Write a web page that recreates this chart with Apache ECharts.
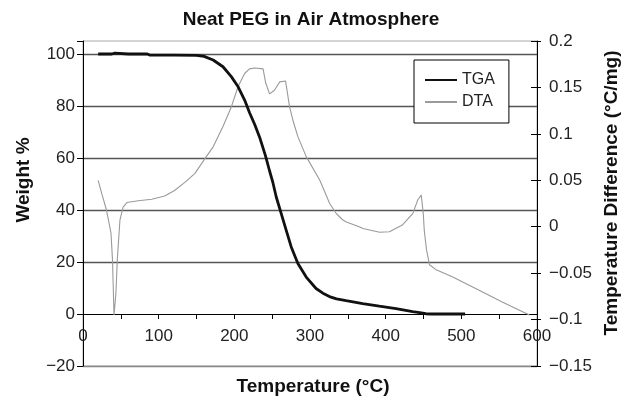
<!DOCTYPE html>
<html>
<head>
<meta charset="utf-8">
<script src="https://cdn.jsdelivr.net/npm/echarts@6/dist/echarts.min.js"></script>
<style>
  html, body { margin: 0; padding: 0; background: #fff; }
  #chart { width: 626px; height: 400px; }
</style>
</head>
<body>
<div id="chart"></div>
<script>
// Thermogravimetric (TGA) and differential thermal (DTA) traces of neat PEG in air
const tgaTemp = [20, 30, 38, 40, 42, 60, 85, 88, 120, 150, 160, 172, 185, 196, 205, 213.6, 220, 226.8,
  233.4, 241, 246.6, 251, 255.4, 262, 268.6, 275.2, 284, 295, 308, 317, 325.7, 335, 347.7, 369.6,
  391.6, 413.7, 435.6, 445, 453, 460, 480, 505];
const tgaWeight = [100, 100, 100, 99.3, 100.3, 100, 100, 99.6, 99.6, 99.5, 99.1, 97.7, 95.1, 91.3, 87.4,
  82.3, 77.5, 73, 68, 61, 55, 50.5, 45, 38.6, 32.2, 25.8, 19.4, 14.2, 9.8, 8, 6.7, 5.8, 5.1, 4.0,
  3.0, 2.1, 0.9, 0.5, 0.1, 0, 0, 0];

const dtaTemp = [20, 25, 31, 37, 39, 41, 43.5, 45.3, 48.8, 53, 58, 73, 91, 108, 121, 135, 148, 160, 172,
  185, 196, 205, 213.6, 220, 227, 238, 241.4, 246.6, 253, 260, 267.7, 273, 278, 284, 295, 313, 326,
  334, 343, 348, 365, 370, 392, 405, 422, 436, 442.5, 447, 449.7, 451, 454, 458, 466, 488, 532, 554, 590];
const dtaDiff = [0.05, 0.035, 0.018, -0.007, -0.036, -0.095, -0.072, -0.036, 0.007, 0.021, 0.026, 0.028,
  0.0295, 0.033, 0.039, 0.048, 0.0575, 0.072, 0.086, 0.108, 0.129, 0.151, 0.165, 0.170, 0.171, 0.170,
  0.155, 0.143, 0.147, 0.156, 0.157, 0.129, 0.113, 0.097, 0.0755, 0.050, 0.025, 0.015, 0.0075, 0.005,
  0.0, -0.002, -0.006, -0.0054, 0.0018, 0.0144, 0.029, 0.034, 0.0144, -0.004, -0.025, -0.041, -0.046,
  -0.054, -0.072, -0.081, -0.095];

const chartTitle = 'Neat PEG in Air Atmosphere';
const xTitle = 'Temperature (°C)';
const yLeftTitle = 'Weight %';
const yRightTitle = 'Temperature Difference (°C/mg)';

const FONT = '"Liberation Sans", Arial, Helvetica, sans-serif';
const neg = v => (v < 0 ? '\u2212' + Math.abs(v) : String(v));
const pairs = (xs, ys) => xs.map((x, i) => [x, ys[i]]);

const weightMin = -20, weightMax = 105;
const grid = { left: 83, right: 89, top: 41, bottom: 34 };
const plotHeight = 400 - grid.top - grid.bottom;
// lift the temperature axis from the bottom edge up to the 0 % line
const xAxisOffset = -plotHeight * (0 - weightMin) / (weightMax - weightMin);

const chart = echarts.init(document.getElementById('chart'), null, { renderer: 'canvas' });

chart.setOption({
  animation: false,
  backgroundColor: '#fff',
  textStyle: { fontFamily: FONT },
  grid: Object.assign({ show: true, borderColor: '#aaa', borderWidth: 1 }, grid),
  legend: {
    orient: 'vertical',
    left: 414,
    top: 60,
    data: ['TGA', 'DTA'],
    itemWidth: 32,
    itemHeight: 14,
    itemGap: 6,
    padding: [12, 14, 13, 10],
    borderColor: '#000',
    borderWidth: 1,
    backgroundColor: '#fff',
    itemStyle: { color: 'transparent', borderColor: 'transparent', borderWidth: 0, opacity: 0 },
    textStyle: { fontSize: 16, color: '#222', fontFamily: FONT }
  },
  xAxis: {
    type: 'value',
    position: 'bottom',
    offset: xAxisOffset,
    min: 0,
    max: 600,
    interval: 50,
    axisLine: { onZero: false, lineStyle: { color: '#000', width: 1 } },
    axisTick: { show: true, inside: false, length: 5, lineStyle: { color: '#000' } },
    axisLabel: {
      margin: 14,
      fontSize: 17,
      color: '#222',
      fontFamily: FONT,
      formatter: v => (v % 100 === 0 ? String(v) : '')
    },
    splitLine: { show: false }
  },
  yAxis: [
    {
      type: 'value',
      position: 'left',
      min: weightMin,
      max: weightMax,
      interval: 20,
      axisLine: { show: true, lineStyle: { color: '#000', width: 1 } },
      axisTick: { show: true, inside: false, length: 6, lineStyle: { color: '#000' } },
      axisLabel: {
        margin: 8,
        fontSize: 17,
        color: '#222',
        fontFamily: FONT,
        formatter: v => (v > 100 ? '' : neg(v))
      },
      splitLine: {
        show: true,
        lineStyle: {
          width: 1.3,
          color: ['#888', 'transparent', '#555', '#555', '#555', '#555', '#555', 'transparent']
        }
      }
    },
    {
      type: 'value',
      position: 'right',
      min: -0.15,
      max: 0.2,
      interval: 0.05,
      axisLine: { show: true, lineStyle: { color: '#000', width: 1 } },
      axisTick: { show: true, inside: false, length: 4, lineStyle: { color: '#000' } },
      axisLabel: {
        margin: 12,
        fontSize: 17,
        color: '#222',
        fontFamily: FONT,
        formatter: v => neg(Math.round(v * 100) / 100)
      },
      splitLine: { show: false }
    },
    {
      // inner half of the crossing ticks on the right-hand scale
      type: 'value',
      position: 'right',
      min: -0.15,
      max: 0.2,
      interval: 0.05,
      axisLine: { show: false },
      axisTick: { show: true, inside: true, length: 6, lineStyle: { color: '#000' } },
      axisLabel: { show: false },
      splitLine: { show: false }
    }
  ],
  series: [
    {
      name: 'DTA',
      type: 'line',
      yAxisIndex: 1,
      data: pairs(dtaTemp, dtaDiff),
      showSymbol: false,
      symbol: 'none',
      lineStyle: { color: '#9a9a9a', width: 1.1 },
      itemStyle: { color: '#9a9a9a' },
      z: 3
    },
    {
      name: 'TGA',
      type: 'line',
      yAxisIndex: 0,
      data: pairs(tgaTemp, tgaWeight),
      showSymbol: false,
      symbol: 'none',
      lineStyle: { color: '#111', width: 2.8 },
      itemStyle: { color: '#111' },
      z: 4
    }
  ],
  graphic: [
    {
      type: 'text', x: 311, y: 20,
      style: { text: chartTitle, font: 'bold 19px ' + FONT, fill: '#111',
        align: 'center', verticalAlign: 'middle', textAlign: 'center', textVerticalAlign: 'middle' }
    },
    {
      type: 'text', x: 313, y: 387,
      style: { text: xTitle, font: 'bold 19px ' + FONT, fill: '#111',
        align: 'center', verticalAlign: 'middle', textAlign: 'center', textVerticalAlign: 'middle' }
    },
    {
      type: 'text', x: 24, y: 180, rotation: Math.PI / 2,
      style: { text: yLeftTitle, font: 'bold 19px ' + FONT, fill: '#111',
        align: 'center', verticalAlign: 'middle', textAlign: 'center', textVerticalAlign: 'middle' }
    },
    {
      type: 'text', x: 612, y: 193, rotation: Math.PI / 2,
      style: { text: yRightTitle, font: 'bold 19px ' + FONT, fill: '#111',
        align: 'center', verticalAlign: 'middle', textAlign: 'center', textVerticalAlign: 'middle' }
    }
  ]
});
</script>
</body>
</html>
